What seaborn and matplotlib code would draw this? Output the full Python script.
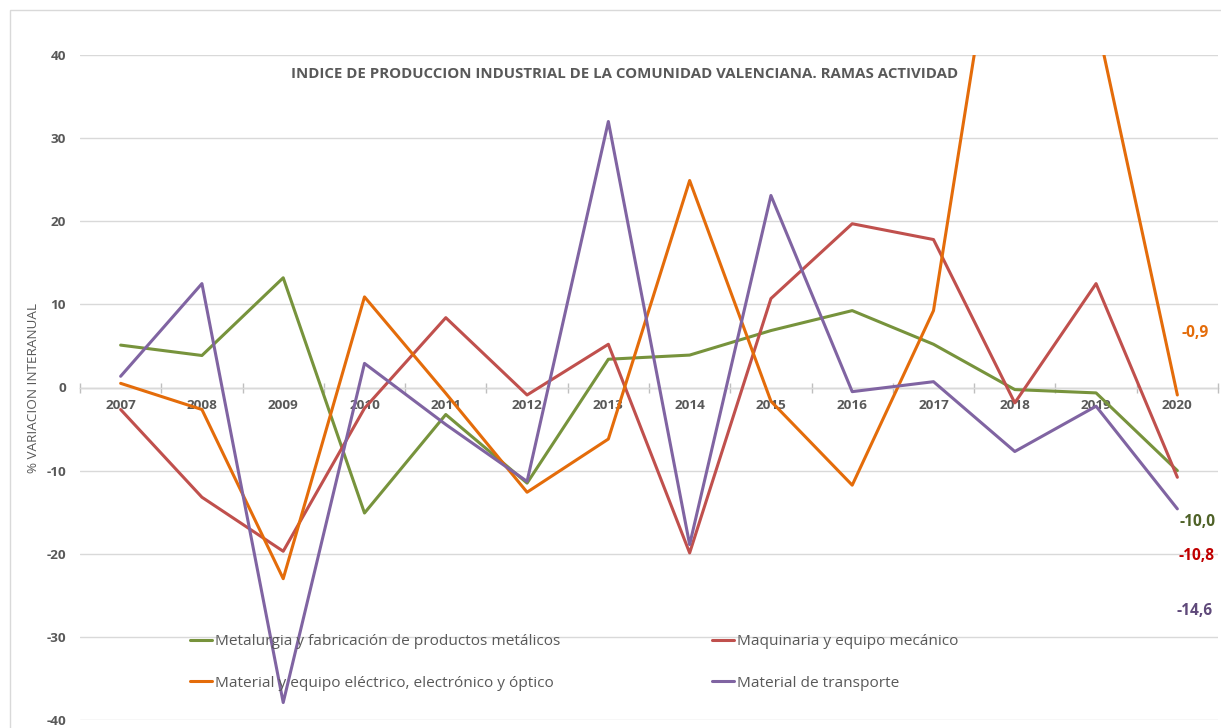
import numpy as np
import pandas as pd
import matplotlib
matplotlib.use("Agg")
import matplotlib.pyplot as plt
from matplotlib.lines import Line2D
from matplotlib.patches import Rectangle
import seaborn as sns

# ---------------- data ----------------
years = ["2007", "2008", "2009", "2010", "2011", "2012", "2013",
         "2014", "2015", "2016", "2017", "2018", "2019", "2020"]
metalurgia = [5.1, 3.85, 13.2, -15.1, -3.25, -11.5, 3.4, 3.9, 6.85, 9.25, 5.2, -0.25, -0.65, -10.0]
maquinaria = [-2.65, -13.2, -19.7, -2.5, 8.4, -0.9, 5.2, -19.9, 10.7, 19.7, 17.8, -1.85, 12.5, -10.8]
electrico = [0.5, -2.65, -23.0, 10.9, -0.7, -12.6, -6.2, 24.9, -1.65, -11.75, 9.25, 70.7, 44.4, -0.9]
transporte = [1.35, 12.5, -37.9, 2.9, -4.45, -11.3, 32.0, -18.9, 23.1, -0.5, 0.7, -7.7, -2.25, -14.6]

names = ["Metalurgia y fabricación de productos metálicos",
         "Maquinaria y equipo mecánico",
         "Material y equipo eléctrico, electrónico y óptico",
         "Material de transporte"]
series = [metalurgia, maquinaria, electrico, transporte]
title = "INDICE DE PRODUCCION INDUSTRIAL DE LA COMUNIDAD VALENCIANA. RAMAS ACTIVIDAD"
ylabel = "% VARIACION INTERANUAL"

colors = ["#77933C", "#C0504D", "#E46C0A", "#8064A2"]
label_colors = ["#4F6228", "#C00000", "#E46C0A", "#5F497A"]
label_offsets = [(20, -51), (19, -79), (18, 62), (17, -102)]  # pixels

rows = []
for name, vals in zip(names, series):
    for i, v in enumerate(vals):
        rows.append({"pos": i, "year": years[i], "valor": v, "serie": name})
df = pd.DataFrame(rows)

# ---------------- style ----------------
sns.set_theme(style="white")
plt.rcParams["font.family"] = ["Open Sans", "DejaVu Sans"]
GRAY = "#595959"

W, H = 1221, 728
fig = plt.figure(figsize=(W / 100, H / 100), dpi=100)
fig.patch.set_facecolor("white")
ax = fig.add_axes([80 / W, 8 / H, (1218 - 80) / W, (720 - 55) / H])
ax.set_facecolor("white")

sns.lineplot(data=df, x="pos", y="valor", hue="serie", hue_order=names,
             palette=colors, sort=False, estimator=None, linewidth=2.2,
             ax=ax, legend=False)

ax.set_xlim(-0.5, len(years) - 0.5)
ax.set_ylim(-40, 40)
ax.set_yticks(range(-40, 41, 10))
ax.set_yticklabels([str(t) for t in range(-40, 41, 10)])
ax.yaxis.grid(True, color="#D9D9D9", linewidth=1.0)
ax.xaxis.grid(False)
ax.set_axisbelow(True)
for s in ["left", "right", "top"]:
    ax.spines[s].set_visible(False)
ax.spines["bottom"].set_position(("data", 0))
ax.spines["bottom"].set_color("#BFBFBF")
ax.spines["bottom"].set_linewidth(1.0)
ax.spines["bottom"].set_zorder(0.5)

pos = np.arange(len(years))
ax.set_xticks(np.arange(-0.5, len(years), 1.0))
ax.set_xticklabels([])
ax.set_xticks(pos, minor=True)
ax.set_xticklabels(years, minor=True)
ax.tick_params(axis="x", which="major", direction="inout", length=6.5,
               width=1.0, color="#BFBFBF", bottom=True)
ax.tick_params(axis="x", which="minor", length=0, pad=8, labelsize=9.7,
               labelcolor=GRAY)
for t in ax.get_xticklabels(minor=True):
    t.set_fontweight("bold")
ax.tick_params(axis="y", length=0, pad=10, labelsize=9.7, labelcolor=GRAY)
for t in ax.get_yticklabels():
    t.set_fontweight("bold")
ax.set_xlabel("")
ax.set_ylabel("")

fig.text(34 / W, 1 - 388 / H, ylabel, rotation=90, ha="center", va="center",
         fontsize=9.7, color=GRAY)
fig.text(624.5 / W, 1 - 74 / H, title, ha="center", va="center",
         fontsize=10.8, fontweight="bold", color=GRAY)

# end-of-series labels
for vals, c, (dx, dy) in zip(series, label_colors, label_offsets):
    v = vals[-1]
    ax.annotate(f"{v:.1f}".replace(".", ","), xy=(len(years) - 1, v),
                xytext=(dx, dy), textcoords="offset pixels",
                ha="center", va="center", fontsize=11.2, fontweight="bold",
                color=c, annotation_clip=False)

# legends (two columns)
handles = [Line2D([], [], color=c, lw=2.2) for c in colors]
leg_kw = dict(loc="upper left", bbox_transform=fig.transFigure, frameon=False,
              fontsize=11.1, labelcolor=GRAY, handlelength=1.45,
              handletextpad=0.15, borderpad=0, borderaxespad=0,
              labelspacing=1.72)
leg1 = ax.legend([handles[0], handles[2]], [names[0], names[2]],
                 bbox_to_anchor=(190 / W, 1 - 634 / H), **leg_kw)
ax.add_artist(leg1)
leg2 = ax.legend([handles[1], handles[3]], [names[1], names[3]],
                 bbox_to_anchor=(712 / W, 1 - 634 / H), **leg_kw)

# chart border
fig.patches.append(Rectangle((9.5 / W, -0.1), 2.0, 1 - 10 / H + 0.1,
                             transform=fig.transFigure, fill=False,
                             edgecolor="#D9D9D9", linewidth=1.0))

fig.savefig("out.png", dpi=100, facecolor="white")
